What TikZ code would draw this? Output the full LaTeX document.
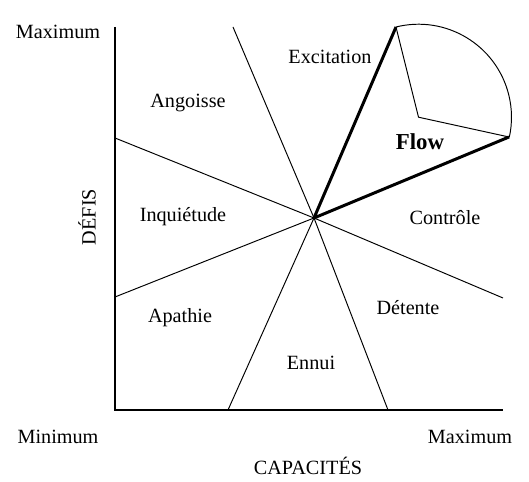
\documentclass[tikz,border=0pt]{standalone}
\usepackage{fontspec}
\setmainfont{Liberation Serif}
\usetikzlibrary{positioning}
\tikzset{
  zone/.style={font=\fontsize{11.5}{13}\selectfont},
  axe/.style={line width=0.8pt},
  trait/.style={line width=0.55pt},
  flux/.style={line width=1.7pt, line join=round}
}

\begin{document}
\begin{tikzpicture}[x=0.02cm,y=-0.02cm]
    \useasboundingbox (0,0) rectangle (529,482);
%    points
    \coordinate (O) at (314,218);
    \coordinate (ymax) at (115,27);
    \coordinate (orig) at (115,410);
    \coordinate (xmax) at (503,410);
    \coordinate (hautG) at (233,27);
    \coordinate (basD) at (388,410);
    \coordinate (gaucheH) at (115,138);
    \coordinate (droiteB) at (503,298);
    \coordinate (gaucheB) at (115,297);
    \coordinate (basG) at (228,410);
    \coordinate (flowA) at (396,27);
    \coordinate (flowB) at (509,137);
    \coordinate (flowC) at (418.5,117.2);

%    axes
    \draw[axe] (ymax) -- (orig) -- (xmax);

%    secteurs
    \draw[trait] (hautG) -- (O) -- (basD);
    \draw[trait] (gaucheH) -- (O) -- (droiteB);
    \draw[trait] (gaucheB) -- (O);
    \draw[trait] (basG) -- (O);
    \draw[trait] (flowA) -- (flowC) -- (flowB);
    \draw[trait] (flowA) arc[start angle=-104, end angle=12.5, radius=93];
    \draw[flux] (flowA) -- (O) -- (flowB);

%    textes
    \node[zone] (maxY) at (58,32) {Maximum};
    \node[zone] (minX) at (58,437) {Minimum};
    \node[zone] (maxX) at (470,437) {Maximum};
    \node[zone] (capa) at (308,466) {CAPACITÉS};
    \node[zone, rotate=90] (defis) at (87,217) {DÉFIS};

    \node[zone] (excit) at (330,57) {Excitation};
    \node[zone] (angoi) at (188,103) {Angoisse};
    \node[zone, font=\fontsize{13}{15}\selectfont\bfseries] (flow) at (420,142) {Flow};
    \node[zone] (inqui) at (183,217) {Inquiétude};
    \node[zone] (contr) at (445,218) {Contrôle};
    \node[zone] (apath) at (180,318) {Apathie};
    \node[zone] (deten) at (408,308) {Détente};
    \node[zone] (ennui) at (311,363) {Ennui};
\end{tikzpicture}
\end{document}
